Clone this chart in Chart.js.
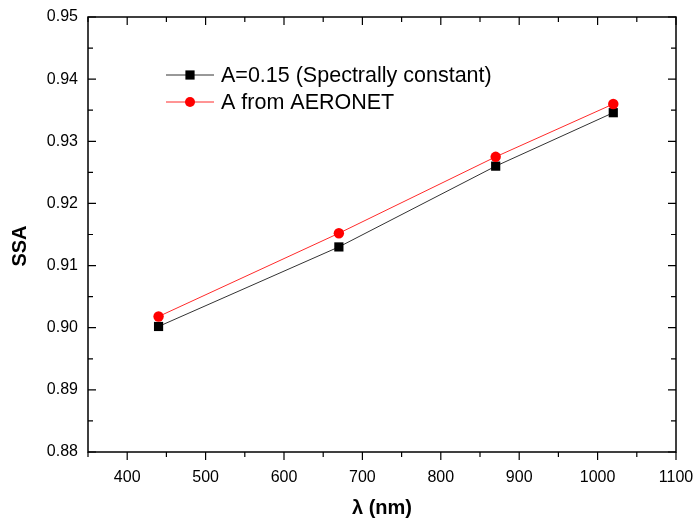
<!DOCTYPE html>
<html>
<head>
<meta charset="utf-8">
<script src="https://cdn.jsdelivr.net/npm/chart.js@4.4.1/dist/chart.umd.min.js"></script>
<style>
  html, body { margin: 0; padding: 0; background: #fff; }
  #box { width: 698px; height: 526px; }
</style>
</head>
<body>
<div id="box"><canvas id="grafico"></canvas></div>
<script>
// datos
const longitudes = [440, 670, 870, 1020];
const ssaConstante = [0.9002, 0.9130, 0.9260, 0.9346];
const ssaAeronet   = [0.9018, 0.9152, 0.9275, 0.9360];
const etiquetas = ['A=0.15 (Spectrally constant)', 'A from AERONET'];
const ticksX = [400, 500, 600, 700, 800, 900, 1000, 1100];
const ticksY = [0.88, 0.89, 0.90, 0.91, 0.92, 0.93, 0.94, 0.95];

const fuente = "'Liberation Sans', Arial, sans-serif";
Chart.defaults.font.family = fuente;
Chart.defaults.color = '#000';

// ───────────────────────── marco, ticks, leyenda y títulos
const marco = {
  id: 'marco',
  afterDraw (chart) {
    const { ctx, chartArea: a, scales: { x, y } } = chart;
    ctx.save();
    ctx.strokeStyle = '#000';
    ctx.lineWidth = 1.5;
    ctx.strokeRect(a.left, a.top, a.right - a.left, a.bottom - a.top);

    ctx.lineWidth = 1.2;
    ctx.beginPath();
    // eje x: abajo hacia fuera, arriba hacia dentro
    for (let v = x.min; v <= x.max + 1e-6; v += 50) {
      const px = x.getPixelForValue(v);
      const len = ticksX.includes(v) ? 8 : 5;
      ctx.moveTo(px, a.bottom); ctx.lineTo(px, a.bottom + len);
      ctx.moveTo(px, a.top);    ctx.lineTo(px, a.top + len);
    }
    // eje y: ambos lados hacia dentro
    for (let i = 0; i <= 14; i++) {
      const v = y.min + i * 0.005;
      const py = y.getPixelForValue(v);
      const len = i % 2 === 0 ? 8 : 5;
      ctx.moveTo(a.left, py);  ctx.lineTo(a.left + len, py);
      ctx.moveTo(a.right, py); ctx.lineTo(a.right - len, py);
    }
    ctx.stroke();

    // leyenda dentro del área
    chart.data.datasets.forEach((ds, i) => {
      const yy = 75 + i * 27;
      ctx.strokeStyle = ds.borderColor;
      ctx.lineWidth = 1;
      ctx.beginPath();
      ctx.moveTo(166, yy); ctx.lineTo(214, yy);
      ctx.stroke();
      ctx.fillStyle = ds.pointBackgroundColor;
      if (ds.pointStyle === 'rect') {
        ctx.fillRect(190 - 4.6, yy - 4.6, 9.2, 9.2);
      } else {
        ctx.beginPath(); ctx.arc(190, yy, 5, 0, Math.PI * 2); ctx.fill();
      }
      ctx.fillStyle = '#000';
      ctx.font = `21.5px ${fuente}`;
      ctx.textBaseline = 'middle';
      ctx.textAlign = 'left';
      ctx.fillText(ds.label, 221, yy + 1);
    });

    // títulos de los ejes
    ctx.font = `bold 20px ${fuente}`;
    ctx.textAlign = 'center';
    ctx.textBaseline = 'middle';
    ctx.fillText('λ (nm)', 382, 508);
    ctx.translate(20, 246);
    ctx.rotate(-Math.PI / 2);
    ctx.fillText('SSA', 0, 0);
    ctx.restore();
  }
};

const ctx = document.getElementById('grafico').getContext('2d');
new Chart(ctx, {
  type: 'line',
  data: {
    datasets: [
      {
        label: etiquetas[0],
        data: longitudes.map((l, i) => ({ x: l, y: ssaConstante[i] })),
        borderColor: '#333',
        borderWidth: 1,
        pointStyle: 'rect',
        pointRadius: 6.5,
        pointBorderWidth: 0,
        pointBackgroundColor: '#000',
        order: 2
      },
      {
        label: etiquetas[1],
        data: longitudes.map((l, i) => ({ x: l, y: ssaAeronet[i] })),
        borderColor: '#ff2a2a',
        borderWidth: 1,
        pointStyle: 'circle',
        pointRadius: 5.2,
        pointBorderWidth: 0,
        pointBackgroundColor: '#ff0000',
        order: 1
      }
    ]
  },
  options: {
    responsive: true,
    maintainAspectRatio: false,
    animation: false,
    layout: { padding: { left: 0, top: 17, right: 22, bottom: 0 } },
    plugins: { legend: { display: false }, tooltip: { enabled: false } },
    scales: {
      x: {
        type: 'linear',
        min: 350, max: 1100,
        grid: { display: false, drawTicks: false },
        border: { display: false },
        afterBuildTicks: s => { s.ticks = ticksX.map(v => ({ value: v })); },
        afterFit: s => { s.height = 74; s.paddingLeft = 0; s.paddingRight = 0; },
        ticks: { font: { size: 16 }, padding: 16, maxRotation: 0, callback: v => String(v) }
      },
      y: {
        min: 0.88, max: 0.95,
        grid: { display: false, drawTicks: false },
        border: { display: false },
        afterBuildTicks: s => { s.ticks = ticksY.map(v => ({ value: v })); },
        afterFit: s => { s.width = 88; s.paddingTop = 0; s.paddingBottom = 0; },
        ticks: { font: { size: 16 }, padding: 10, callback: v => v.toFixed(2) }
      }
    }
  },
  plugins: [marco]
});
</script>
</body>
</html>
